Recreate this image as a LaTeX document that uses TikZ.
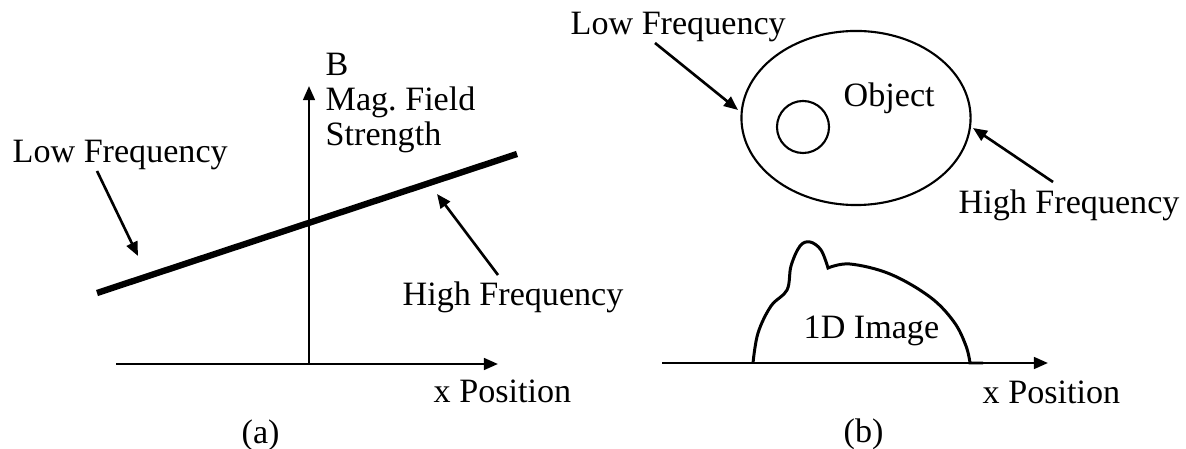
\documentclass[tikz,border=0pt]{standalone}
\usepackage{fontspec}
\setmainfont{Liberation Serif}
\usepackage{tikz}
\usetikzlibrary{arrows.meta, shapes.geometric}

\begin{document}
\begin{tikzpicture}[x=0.01cm, y=-0.01cm, >={Triangle[length=4pt, width=3.3pt]},
  font=\fontsize{9.7}{10}\selectfont,
  lbl/.style={anchor=base west, inner sep=0pt, align=left},
  axis/.style={->, line width=0.75pt},
  pointer/.style={->, line width=0.75pt},
  outline/.style={line width=0.6pt},
  ]
  \useasboundingbox (0,0) rectangle (1186,449);

  % (a) field gradient
  \coordinate (ax0) at (116,364);
  \coordinate (axE) at (498,364);
  \coordinate (axO) at (309,364);
  \coordinate (axN) at (309,86);
  \draw[axis] (ax0) -- (axE);
  \draw[axis] (axO) -- (axN);
  \coordinate (gradL) at (97,293);
  \coordinate (gradR) at (517,154);
  \draw[line width=1.8pt] (gradL) -- (gradR);

  \node[lbl] (lowA) at (12,163) {Low Frequency};
  \node[lbl] (fieldA) at (325,146) {B\\Mag.\ Field\\Strength};
  \node[lbl] (highA) at (402,305) {High Frequency};
  \node[lbl] (posA) at (433,402) {x Position};
  \node[lbl] (capA) at (241,443) {(a)};

  \coordinate (lowAt) at (97,171);
  \coordinate (lowAh) at (138,256);
  \coordinate (highAt) at (498,275);
  \coordinate (highAh) at (437,194);
  \draw[pointer] (lowAt) -- (lowAh);
  \draw[pointer] (highAt) -- (highAh);

  % (b) object and its projection
  \node[outline, draw, ellipse, minimum width=2.29cm, minimum height=1.74cm, inner sep=0pt] (obj) at (856,118) {};
  \node[outline, draw, circle, minimum size=0.52cm, inner sep=0pt] (core) at (803,127) {};
  \node[lbl] (objT) at (843,107) {Object};
  \node[lbl] (lowB) at (570,35) {Low Frequency};
  \node[lbl] (highB) at (958,214) {High Frequency};

  \coordinate (lowBt) at (655,43);
  \coordinate (lowBh) at (738,110);
  \coordinate (highBt) at (1053,182);
  \coordinate (highBh) at (973,128);
  \draw[pointer] (lowBt) -- (lowBh);
  \draw[pointer] (highBt) -- (highBh);

  \coordinate (bx0) at (662,363);
  \coordinate (bxE) at (1048,363);
  \draw[axis] (bx0) -- (bxE);
  \draw[outline, line width=0.85pt] plot[smooth, tension=0.6] coordinates
    {(753,363) (758,333) (771,306) (787,290) (791,266) (800,246) (810,242) (821,250) (828,268)}
    -- plot[smooth, tension=0.6] coordinates
    {(828,268) (850,264) (890,274) (930,297) (954,322) (966,346) (970,363)}
    -- (983,363);

  \node[lbl] (imgB) at (803,338) {1D Image};
  \node[lbl] (posB) at (982,403) {x Position};
  \node[lbl] (capB) at (843,442) {(b)};
\end{tikzpicture}
\end{document}
